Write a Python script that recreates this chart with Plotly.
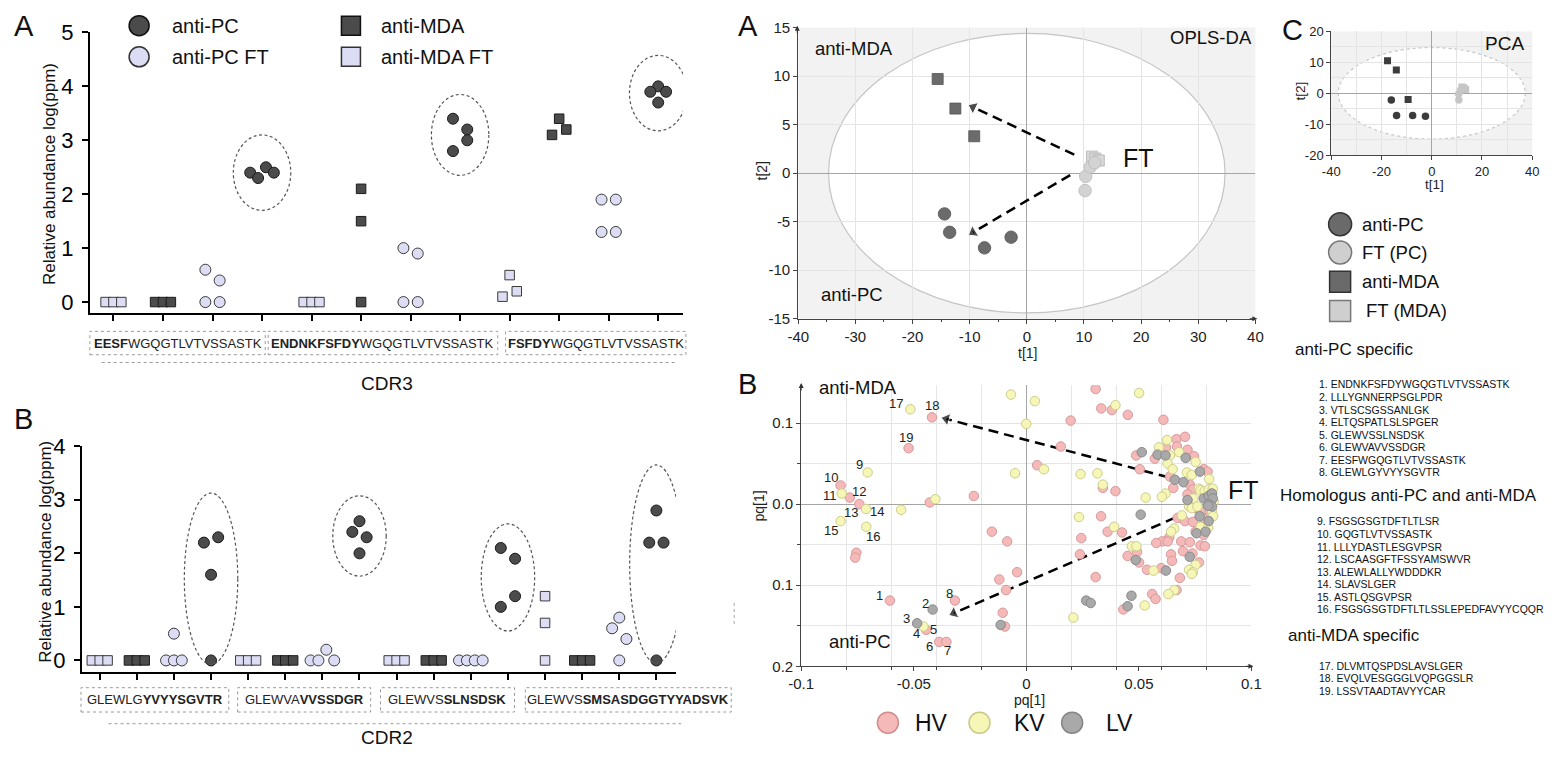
import plotly.graph_objects as go
import numpy as np

W, H = 1558, 758
FONT = "Liberation Sans, Arial, Helvetica, sans-serif"

# ---------------- dot plots: relative abundance log(ppm) ----------------
group_names = ["anti-MDA FT", "anti-MDA", "anti-PC FT", "anti-PC"]

cdr3_peptides = ["<b>EESF</b>WGQGTLVTVSSASTK",
                 "<b>ENDNKFSFDY</b>WGQGTLVTVSSASTK",
                 "<b>FSFDY</b>WGQGTLVTVSSASTK"]
cdr3_mda_ft = [[0, 0, 0], [0, 0, 0], [0.5, 0.1, 0.2]]
cdr3_mda = [[0, 0, 0], [2.1, 1.5, 0], [3.4, 3.1, 3.2]]
cdr3_pc_ft = [[0.6, 0.4, 0, 0], [1.0, 0.9, 0, 0], [1.9, 1.9, 1.3, 1.3]]
cdr3_pc = [[2.4, 2.3, 2.5, 2.4], [3.4, 3.2, 2.8, 3.0], [4.0, 3.9, 3.7, 3.9]]

cdr2_peptides = ["GLEWLG<b>YVYYSGVTR</b>", "GLEWVA<b>VVSSDGR</b>",
                 "GLEWVS<b>SLNSDSK</b>", "GLEWVS<b>SMSASDGGTYYADSVK</b>"]
cdr2_mda_ft = [[0, 0, 0], [0, 0, 0], [0, 0, 0], [1.2, 0.7, 0]]
cdr2_mda = [[0, 0, 0], [0, 0, 0], [0, 0, 0], [0, 0, 0]]
cdr2_pc_ft = [[0.5, 0, 0, 0], [0, 0, 0.2, 0], [0, 0, 0, 0], [0.8, 0.6, 0.4, 0]]
cdr2_pc = [[2.2, 2.3, 1.6, 0], [2.6, 2.4, 2.3, 2.0], [2.1, 1.9, 1.0, 1.2], [2.8, 2.2, 2.2, 0]]

# ---------------- OPLS-DA scores ----------------
opls_pc_t1 = [-14.4, -13.5, -7.4, -2.75]
opls_pc_t2 = [-4.2, -6.1, -7.7, -6.6]
opls_mda_t1 = [-15.6, -12.5, -9.2]
opls_mda_t2 = [9.7, 6.65, 3.8]
opls_ftpc_t1 = [10.2, 10.3, 11.1, 11.9]
opls_ftpc_t2 = [-1.8, -0.33, 0.63, 1.07]
opls_ftmda_t1 = [11.4, 12.0, 12.6]
opls_ftmda_t2 = [1.7, 1.5, 1.3]

# ---------------- PCA scores ----------------
pca_pc_t1 = [-16.1, -14.0, -7.6, -2.5]
pca_pc_t2 = [-2.2, -7.2, -7.2, -7.4]
pca_mda_t1 = [-17.6, -14.1, -9.4]
pca_mda_t2 = [10.5, 7.5, -2.0]
pca_ftpc_t1 = [10.8, 10.7, 11.5, 12.4]
pca_ftpc_t2 = [-2.2, -0.2, 1.0, 1.8]
pca_ftmda_t1 = [12.8, 13.5, 12.0]
pca_ftmda_t2 = [1.8, 1.2, 2.0]

# ---------------- OPLS-DA loadings pq[1] ----------------
hv_pq = [-0.0419, -0.0523, -0.0825, -0.0784, -0.0742, -0.0755, -0.0760, -0.0606, -0.0445, -0.0387,
         -0.0355, -0.0317, -0.0429, -0.0233, -0.0153, -0.0085, -0.0041, -0.0120, -0.0090, -0.0105,
         -0.0095, 0.0308, 0.0197, 0.0153, 0.0048, 0.0244, 0.0238, 0.0308, 0.0333, 0.0380,
         0.0451, 0.0609, 0.0667, 0.0705, 0.0620, 0.0669, 0.0716, 0.0488, 0.0571, 0.0745,
         0.0504, 0.0788, 0.0805, 0.0638, 0.0726, 0.0340, 0.0396, 0.0653, 0.0740, 0.0716,
         0.0752, 0.0796, 0.0774, 0.0672, 0.0705, 0.0740, 0.0788, 0.0752, 0.0788, 0.0635,
         0.0603, 0.0577, 0.0628, 0.0688, 0.0726, 0.0492, 0.0774, 0.0793, 0.0696, 0.0738,
         0.0643, 0.0450, 0.0501, 0.0647, 0.0767, 0.0536, 0.0599, 0.0682, 0.0667, 0.0559,
         0.0574, 0.0431, 0.0332, 0.0361, 0.0425]
hv_p = [0.107, 0.069, 0.023, 0.008, 0.000, -0.060, -0.066, -0.119, -0.155, -0.170,
        -0.170, -0.119, 0.002, 0.010, -0.034, -0.046, -0.084, -0.093, -0.106, -0.134,
        -0.151, 0.142, 0.103, 0.071, 0.048, -0.042, -0.062, -0.090, 0.118, 0.116,
        0.110, 0.104, 0.080, 0.083, 0.070, 0.071, 0.067, 0.060, 0.056, 0.059,
        0.043, 0.043, 0.040, 0.034, 0.024, 0.020, 0.016, 0.020, 0.018, 0.012,
        -0.005, -0.007, -0.009, -0.017, -0.021, -0.022, -0.018, -0.034, -0.038, -0.041,
        -0.046, -0.048, -0.046, -0.046, -0.047, -0.059, -0.051, -0.052, -0.058, -0.061,
        -0.062, -0.064, -0.072, -0.070, -0.072, -0.081, -0.079, -0.091, -0.106, -0.111,
        -0.117, -0.130, -0.015, -0.034, -0.035]
kv_pq = [-0.0515, -0.0705, -0.0820, -0.0712, -0.0825, -0.0711, -0.0457, -0.0556, -0.0404, -0.0068,
         0.0038, 0.0000, 0.0078, -0.0050, 0.0241, 0.0316, 0.0234, 0.0209, 0.0501, 0.0396,
         0.0625, 0.0589, 0.0679, 0.0638, 0.0752, 0.0628, 0.0650, 0.0713, 0.0735, 0.0812,
         0.0340, 0.0767, 0.0618, 0.0602, 0.0530, 0.0742, 0.0774, 0.0792, 0.0810, 0.0828,
         0.0819, 0.0805, 0.0832, 0.0723, 0.0735, 0.0760, 0.0825, 0.0691, 0.0830, 0.0774,
         0.0808, 0.0657, 0.0643, 0.0469, 0.0489, 0.0752, 0.0723, 0.0740, 0.0735, 0.0565,
         0.0657, 0.0631, 0.0526, 0.0390]
kv_p = [0.117, 0.039, 0.013, -0.006, -0.021, -0.028, -0.151, -0.007, 0.006, 0.135,
        0.127, 0.099, 0.043, 0.038, 0.037, 0.038, -0.016, -0.140, 0.137, 0.122,
        0.079, 0.070, 0.064, 0.060, 0.052, 0.050, 0.043, 0.039, 0.036, 0.031,
        0.024, 0.019, 0.013, 0.009, 0.008, 0.007, 0.017, 0.016, 0.018, 0.019,
        0.013, 0.009, 0.003, -0.003, -0.005, -0.003, -0.008, -0.014, -0.015, -0.028,
        -0.029, -0.030, -0.034, -0.052, -0.052, -0.075, -0.081, -0.084, -0.086, -0.082,
        -0.106, -0.111, -0.125, -0.028]
lv_pq = [-0.0416, -0.0485, -0.0114, 0.0266, 0.0286, 0.0513, 0.0583, 0.0618, 0.0708, 0.0771,
         0.0660, 0.0698, 0.0716, 0.0788, 0.0810, 0.0825, 0.0828, 0.0810, 0.0825, 0.0808,
         0.0770, 0.0810, 0.0756, 0.0796, 0.0726, 0.0486, 0.0620, 0.0467, 0.0450, 0.0508]
lv_p = [-0.130, -0.147, -0.149, -0.119, -0.122, 0.064, 0.061, 0.060, 0.057, 0.040,
        0.030, 0.027, 0.005, 0.007, 0.010, 0.013, 0.007, 0.000, -0.003, -0.002,
        -0.015, -0.021, -0.036, -0.034, -0.065, -0.069, -0.082, -0.113, -0.126, -0.013]

loading_numbers = [str(i) for i in range(1, 20)]

list_pc_specific = ["ENDNKFSFDYWGQGTLVTVSSASTK", "LLLYGNNERPSGLPDR", "VTLSCSGSSANLGK",
                    "ELTQSPATLSLSPGER", "GLEWVSSLNSDSK", "GLEWVAVVSSDGR",
                    "EESFWGQGTLVTVSSASTK", "GLEWLGYVYYSGVTR"]
list_homologous = ["FSGSGSGTDFTLTLSR", "GQGTLVTVSSASTK", "LLLYDASTLESGVPSR",
                   "LSCAASGFTFSSYAMSWVR", "ALEWLALLYWDDDKR", "SLAVSLGER", "ASTLQSGVPSR",
                   "FSGSGSGTDFTLTLSSLEPEDFAVYYCQQR"]
list_mda_specific = ["DLVMTQSPDSLAVSLGER", "EVQLVESGGGLVQPGGSLR", "LSSVTAADTAVYYCAR"]

# ---------------- helpers ----------------
fig = go.Figure()
ann = []
shapes = []


def xd(a, b):
    return [a / W, b / W]


def yd(top, bottom):
    return [1 - bottom / H, 1 - top / H]


def T(x, y, text, size, anchor="left", color="#111", angle=0, yanchor="middle"):
    ann.append(dict(xref="paper", yref="paper", x=x / W, y=1 - y / H, text=text,
                    showarrow=False, xanchor=anchor, yanchor=yanchor, textangle=angle,
                    borderpad=0, font=dict(family=FONT, size=size, color=color)))


def rect_px(x0, y0, x1, y1, color="#9a9a9a", dash="dot", width=1):
    shapes.append(dict(type="rect", xref="paper", yref="paper", x0=x0 / W, x1=x1 / W,
                       y0=1 - y1 / H, y1=1 - y0 / H, line=dict(color=color, width=width, dash=dash)))


def line_px(x0, y0, x1, y1, color="#9a9a9a", dash="dot", width=1):
    shapes.append(dict(type="line", xref="paper", yref="paper", x0=x0 / W, x1=x1 / W,
                       y0=1 - y0 / H, y1=1 - y1 / H, line=dict(color=color, width=width, dash=dash)))


def arrow_tip(x, y, ax, ay, color="#333"):
    ann.append(dict(xref="paper", yref="paper", x=x / W, y=1 - y / H, ax=ax, ay=ay, text="",
                    showarrow=True, arrowhead=2, arrowsize=1, arrowwidth=1, arrowcolor=color))


DARK = "#4b4b4b"
LIGHT = "#dcdcf5"
MARK = {
    "anti-MDA FT": dict(symbol="square", size=9.5, color=LIGHT, line=dict(color="#3a3a3a", width=1)),
    "anti-MDA": dict(symbol="square", size=9.5, color=DARK, line=dict(color="#1a1a1a", width=1)),
    "anti-PC FT": dict(symbol="circle", size=11, color=LIGHT, line=dict(color="#3a3a3a", width=1)),
    "anti-PC": dict(symbol="circle", size=11, color=DARK, line=dict(color="#1a1a1a", width=1)),
}


def dodge(vals, tol=0.22):
    n = len(vals)
    order = sorted(range(n), key=lambda i: (vals[i], i))
    rows, cur = [], [order[0]]
    for i in order[1:]:
        if vals[i] - vals[cur[0]] <= tol + 1e-9:
            cur.append(i)
        else:
            rows.append(cur)
            cur = [i]
    rows.append(cur)
    slots, sizes = [0.0] * n, [1] * n
    for r in rows:
        r = sorted(r)
        k = len(r)
        for j, i in enumerate(r):
            slots[i] = j - (k - 1) / 2
            sizes[i] = k
    return slots, sizes


def dot_panel(series, xa, ya, px_per_cat):
    for g, name in enumerate(group_names):
        xs, ys = [], []
        for p, vals in enumerate(series[g]):
            cat = 4 * p + g + 1
            slots, sizes = dodge(vals)
            for v, s, k in zip(vals, slots, sizes):
                step = 14.5 if k == 2 else 8.0
                xs.append(cat + s * step / px_per_cat)
                ys.append(v)
        fig.add_trace(go.Scatter(x=xs, y=ys, mode="markers", marker=MARK[name], xaxis=xa,
                                 yaxis=ya, showlegend=False, hoverinfo="skip", cliponaxis=False))


def pc_ellipses(pc_series, xref, yref, hw):
    for p, vals in enumerate(pc_series):
        cat = 4 * p + 4
        m = float(np.mean(vals))
        hh = max(0.7, (max(vals) - min(vals)) / 2 + 0.45)
        shapes.append(dict(type="circle", xref=xref, yref=yref, x0=cat - hw, x1=cat + hw,
                           y0=m - hh, y1=m + hh, layer="above",
                           line=dict(color="#555555", width=1.2, dash="3px,2.5px")))


# ---------------- left panels ----------------
pxA = (680 - 78) / (12.5 - 0.523)
pxB = (673 - 70) / (16.53 - 0.522)
dot_panel([cdr3_mda_ft, cdr3_mda, cdr3_pc_ft, cdr3_pc], "x", "y", pxA)
dot_panel([cdr2_mda_ft, cdr2_mda, cdr2_pc_ft, cdr2_pc], "x2", "y2", pxB)
pc_ellipses(cdr3_pc, "x", "y", 0.58)
pc_ellipses(cdr2_pc, "x2", "y2", 0.72)

gp_axis = dict(showline=True, linecolor="black", linewidth=2, ticks="outside", ticklen=6,
               tickwidth=2, tickcolor="black", showgrid=False, zeroline=False,
               tickfont=dict(family=FONT, size=22, color="black"), ticklabelstandoff=4,
               fixedrange=True)
gp_xaxis = {k: v for k, v in gp_axis.items() if k not in ("tickfont", "ticklabelstandoff")}

# ---------------- OPLS-DA scores ----------------
S_DARK = "#6b6b6b"
S_LIGHT = "#d3d3d3"
fig.add_trace(go.Scatter(x=opls_mda_t1, y=opls_mda_t2, mode="markers", xaxis="x3", yaxis="y3",
                         marker=dict(symbol="square", size=11, color=S_DARK, line=dict(color="#555", width=0.8)),
                         showlegend=False, hoverinfo="skip"))
fig.add_trace(go.Scatter(x=opls_pc_t1, y=opls_pc_t2, mode="markers", xaxis="x3", yaxis="y3",
                         marker=dict(symbol="circle", size=12.5, color=S_DARK, line=dict(color="#555", width=0.8)),
                         showlegend=False, hoverinfo="skip"))
fig.add_trace(go.Scatter(x=opls_ftmda_t1, y=opls_ftmda_t2, mode="markers", xaxis="x3", yaxis="y3",
                         marker=dict(symbol="square", size=11, color="#d9d9d9", line=dict(color="#b0b0b0", width=0.8)),
                         showlegend=False, hoverinfo="skip"))
fig.add_trace(go.Scatter(x=opls_ftpc_t1, y=opls_ftpc_t2, mode="markers", xaxis="x3", yaxis="y3",
                         marker=dict(symbol="circle", size=12.5, color=S_LIGHT, line=dict(color="#b8b8b8", width=0.8)),
                         showlegend=False, hoverinfo="skip"))

# dashed arrows (annotation arrows)
for (x0, y0, x1, y1, xa, ya) in [(8.3, 1.9, -9.4, 6.8, "x3", "y3"), (7.6, -0.2, -9.4, -6.1, "x3", "y3"),
                                 (0.070, 0.028, -0.0355, 0.105, "x5", "y5"),
                                 (0.0661, -0.0168, -0.0322, -0.1345, "x5", "y5")]:
    fig.add_trace(go.Scatter(x=[x0, x1], y=[y0, y1], mode="lines+markers", xaxis=xa, yaxis=ya,
                             line=dict(color="black", width=2.5, dash="10px,6px"),
                             marker=dict(symbol=["circle", "triangle-up"], size=[0, 11], color="black",
                                         angleref="previous"),
                             showlegend=False, hoverinfo="skip"))

# ---------------- PCA scores ----------------
fig.add_trace(go.Scatter(x=pca_mda_t1, y=pca_mda_t2, mode="markers", xaxis="x4", yaxis="y4",
                         marker=dict(symbol="square", size=7, color="#3c3c3c"), showlegend=False, hoverinfo="skip"))
fig.add_trace(go.Scatter(x=pca_pc_t1, y=pca_pc_t2, mode="markers", xaxis="x4", yaxis="y4",
                         marker=dict(symbol="circle", size=7.5, color="#3c3c3c"), showlegend=False, hoverinfo="skip"))
fig.add_trace(go.Scatter(x=pca_ftmda_t1, y=pca_ftmda_t2, mode="markers", xaxis="x4", yaxis="y4",
                         marker=dict(symbol="square", size=7, color="#c6c6c6"), showlegend=False, hoverinfo="skip"))
fig.add_trace(go.Scatter(x=pca_ftpc_t1, y=pca_ftpc_t2, mode="markers", xaxis="x4", yaxis="y4",
                         marker=dict(symbol="circle", size=7.5, color="#c6c6c6"), showlegend=False, hoverinfo="skip"))

# ---------------- loadings ----------------
LOAD_STYLE = {
    "HV": dict(color="#f5b9b9", line=dict(color="#d69a9a", width=1)),
    "KV": dict(color="#f6f6b6", line=dict(color="#cdcd8e", width=1)),
    "LV": dict(color="#a9a9a9", line=dict(color="#8a8a8a", width=1)),
}
for key, xs, ys in [("HV", hv_pq, hv_p), ("KV", kv_pq, kv_p), ("LV", lv_pq, lv_p)]:
    fig.add_trace(go.Scatter(x=xs, y=ys, mode="markers", xaxis="x5", yaxis="y5",
                             marker=dict(symbol="circle", size=9.5, **LOAD_STYLE[key]),
                             showlegend=False, hoverinfo="skip"))

# number labels of peptides in loadings plot (text positions)
num_pos = [(-0.0654, -0.1128), (-0.0448, -0.1228), (-0.0533, -0.1416), (-0.0489, -0.160),
           (-0.0413, -0.1548), (-0.0428, -0.176), (-0.0349, -0.180), (-0.0343, -0.110),
           (-0.0742, 0.0492), (-0.0866, 0.0332), (-0.0872, 0.0104), (-0.0745, 0.0152),
           (-0.0778, -0.0108), (-0.0664, -0.0088), (-0.0869, -0.032), (-0.0683, -0.040),
           (-0.0577, 0.1244), (-0.0419, 0.1212), (-0.0533, 0.0824)]
for lbl, (px_, py_) in zip(loading_numbers, num_pos):
    ann.append(dict(xref="x5", yref="y5", x=px_, y=py_, text=lbl, showarrow=False, borderpad=0,
                    font=dict(family=FONT, size=13, color="#222")))

# ---------------- background shapes of score plots ----------------
for xr, yr, a, b, dash, lc in [("x3", "y3", 34.7, 14.4, "solid", "#c4c4c4"),
                               ("x4", "y4", 37.2, 14.8, "dot", "#c8c8c8")]:
    shapes.append(dict(type="rect", xref=xr + " domain", yref=yr + " domain", x0=0, x1=1, y0=0, y1=1,
                       fillcolor="#f2f2f2", line=dict(width=0), layer="below"))
    shapes.append(dict(type="circle", xref=xr, yref=yr, x0=-a, x1=a, y0=-b, y1=b,
                       fillcolor="white", line=dict(color=lc, width=1.2, dash=dash), layer="below"))

# ---------------- overlay axis for legend symbols ----------------
LEG = [
    (128, 14, "circle", 20, DARK, "#111"), (128, 46, "circle", 20, LIGHT, "#333"),
    (343, 14, "square", 19, DARK, "#111"), (343, 46, "square", 19, LIGHT, "#333"),
    (1347, 218, "circle", 23, "#6a6a6a", "#333"), (1347, 247, "circle", 23, "#cfcfcf", "#777"),
    (1347, 277, "square", 21, "#6a6a6a", "#333"), (1347, 307, "square", 21, "#cfcfcf", "#777"),
    (888, 730, "circle", 21, "#f5b9b9", "#d08c8c"), (981, 730, "circle", 21, "#f6f6b6", "#c8c888"),
    (1075, 730, "circle", 21, "#a9a9a9", "#858585"),
]
for (lx, ly, sym, sz, fc, lc) in LEG:
    fig.add_trace(go.Scatter(x=[lx], y=[ly], mode="markers", xaxis="x6", yaxis="y6",
                             marker=dict(symbol=sym, size=sz, color=fc, line=dict(color=lc, width=1.5)),
                             showlegend=False, hoverinfo="skip"))

# ---------------- texts ----------------
T(11, 14, "A", 29, anchor="center")
T(11, 418, "B", 29, anchor="center")
T(746, 14, "A", 29, anchor="center")
T(746, 382, "B", 29, anchor="center")
T(1299, 18, "C", 29, anchor="center")

T(160, 14, "anti-PC", 20)
T(160, 46, "anti-PC FT", 20)
T(372, 14, "anti-MDA", 20)
T(372, 46, "anti-MDA FT", 20)

T(37, 166, "Relative abundance log(ppm)", 17, anchor="center", angle=-90)
T(33, 555, "Relative abundance log(ppm)", 17, anchor="center", angle=-90)

boxesA = [(78, 256), (259, 492), (500, 683)]
for (a, b), pep in zip(boxesA, cdr3_peptides):
    rect_px(a, 328, b, 352)
    T((a + b) / 2, 340, pep, 13, anchor="center", color="#222")
line_px(90, 360, 673, 360)
T(380, 382, "CDR3", 19, anchor="center")

boxesB = [(69, 219), (228, 363), (373, 509), (520, 729)]
for (a, b), pep in zip(boxesB, cdr2_peptides):
    rect_px(a, 694, b, 719)
    T((a + b) / 2, 706.5, pep, 13, anchor="center", color="#222")
line_px(97, 731, 678, 731)
T(380, 745, "CDR2", 19, anchor="center")
line_px(732, 607, 732, 631, color="#aaaaaa")

# OPLS-DA texts
T(813, 37, "anti-MDA", 18.5)
T(819, 290, "anti-PC", 18.5)
T(1173, 26, "OPLS-DA", 18.5)
T(1126, 150, "FT", 25)
T(1030, 350, "t[1]", 14, anchor="center", color="#222")
T(760, 163, "t[2]", 14, anchor="center", color="#222", angle=-90)
arrow_tip(796, 14, 0, 9)
arrow_tip(1263, 315, -9, 0)

# PCA texts
T(1493, 32, "PCA", 19)
T(1443, 177, "t[1]", 13.5, anchor="center", color="#222")
T(1307, 81, "t[2]", 13.5, anchor="center", color="#222", angle=-90)

# C legend texts
T(1368, 218, "anti-PC", 18.5)
T(1368, 247, "FT (PC)", 18.5)
T(1368, 277, "anti-MDA", 18.5)
T(1372, 307, "FT (MDA)", 18.5)

# loadings texts
T(817, 386, "anti-MDA", 18.5)
T(827, 647, "anti-PC", 18.5)
T(1232, 491, "FT", 25)
T(1032, 707, "pq[1]", 14, anchor="center", color="#222")
T(757, 507, "pq[1]", 14, anchor="center", color="#222", angle=-90)
T(915, 730, "HV", 23)
T(1015, 730, "KV", 23)
T(1108, 730, "LV", 23)
arrow_tip(800, 381, 0, 9)
arrow_tip(1259, 672, -9, 0)

# peptide lists
T(1300, 347, "anti-PC specific", 17)
for i, s in enumerate(list_pc_specific):
    T(1325, 382.5 + 12.9 * i, f"{i + 1}. {s}", 10.5)
T(1285, 497, "Homologus anti-PC and anti-MDA", 17)
for i, s in enumerate(list_homologous):
    T(1323, 523.3 + 12.85 * i, f"{i + 9}. {s}", 10.5)
T(1293, 640, "anti-MDA specific", 17)
for i, s in enumerate(list_mda_specific):
    T(1325, 671.7 + 12.8 * i, f"{i + 17}. {s}", 10.5)

# ---------------- layout ----------------
sc_axis = dict(showline=True, linecolor="#444", linewidth=1, ticks="outside", ticklen=4, tickwidth=1,
               tickcolor="#444", showgrid=True, gridcolor="#e4e4e4", gridwidth=1, zeroline=True,
               zerolinecolor="#a5a5a5", zerolinewidth=1, fixedrange=True)

layout = dict(
    width=W, height=H, margin=dict(l=0, r=0, t=0, b=0), autosize=False,
    paper_bgcolor="white", plot_bgcolor="rgba(0,0,0,0)",
    font=dict(family=FONT, color="#111"),
    xaxis=dict(domain=xd(78, 680), range=[0.523, 12.5], tickvals=list(range(1, 13)),
               showticklabels=False, anchor="y", **gp_xaxis),
    yaxis=dict(domain=yd(21, 309), range=[-0.2, 5], tickvals=[0, 1, 2, 3, 4, 5], anchor="x", **gp_axis),
    xaxis2=dict(domain=xd(70, 673), range=[0.522, 16.53], tickvals=list(range(1, 17)),
                showticklabels=False, anchor="y2", **gp_xaxis),
    yaxis2=dict(domain=yd(446, 678), range=[-0.218, 4.0], tickvals=[0, 1, 2, 3, 4], anchor="x2", **gp_axis),
    xaxis3=dict(domain=xd(797, 1261), range=[-40, 40], tickvals=list(range(-40, 41, 10)),
                ticktext=[str(v) for v in range(-40, 41, 10)], anchor="y3",
                tickfont=dict(family=FONT, size=15, color="#222"),
                minor=dict(dtick=5, ticks="outside", ticklen=2, tickcolor="#444", showgrid=False), **sc_axis),
    yaxis3=dict(domain=yd(16, 315), range=[-15, 15], tickvals=list(range(-15, 16, 5)),
                ticktext=[str(v) for v in range(-15, 16, 5)], anchor="x3",
                tickfont=dict(family=FONT, size=15, color="#222"), **sc_axis),
    xaxis4=dict(domain=xd(1338, 1542), range=[-40, 40], tickvals=[-40, -20, 0, 20, 40],
                ticktext=["-40", "-20", "0", "20", "40"], anchor="y4",
                tickfont=dict(family=FONT, size=13, color="#222"),
                minor=dict(dtick=10, showgrid=True, gridcolor="#e4e4e4", ticks=""), **sc_axis),
    yaxis4=dict(domain=yd(20, 147), range=[-20, 20], tickvals=[-20, -10, 0, 10, 20],
                ticktext=["-20", "-10", "0", "10", "20"], anchor="x4",
                tickfont=dict(family=FONT, size=13, color="#222"),
                minor=dict(dtick=5, showgrid=True, gridcolor="#e4e4e4", ticks=""), **sc_axis),
    xaxis5=dict(domain=xd(800, 1257), range=[-0.1, 0.1], tickvals=[-0.1, -0.05, 0, 0.05, 0.1],
                ticktext=["-0.1", "-0.05", "0", "0.05", "0.1"], anchor="y5",
                tickfont=dict(family=FONT, size=15, color="#222"),
                minor=dict(dtick=0.02, tick0=0, showgrid=True, gridcolor="#e6e6e6", ticks="outside",
                           ticklen=3, tickcolor="#444"),
                **{k: (False if k == "showgrid" else v) for k, v in sc_axis.items()}),
    yaxis5=dict(domain=yd(383, 672), range=[-0.2, 0.147], tickvals=[0.1, 0, -0.1, -0.2],
                ticktext=["0.1", "0.0", "0.1", "0.2"], anchor="x5",
                tickfont=dict(family=FONT, size=15, color="#222"),
                minor=dict(dtick=0.05, tick0=0, showgrid=True, gridcolor="#e6e6e6", ticks="outside",
                           ticklen=3, tickcolor="#444"), **sc_axis),
    xaxis6=dict(domain=[0, 1], range=[0, W], visible=False, anchor="y6", fixedrange=True),
    yaxis6=dict(domain=[0, 1], range=[H, 0], visible=False, anchor="x6", fixedrange=True),
    annotations=ann, shapes=shapes,
)
fig.update_layout(**layout)

fig.write_html("out.html", config={"displayModeBar": False},
               post_script="document.body.style.margin='0';document.body.style.overflow='hidden';")
